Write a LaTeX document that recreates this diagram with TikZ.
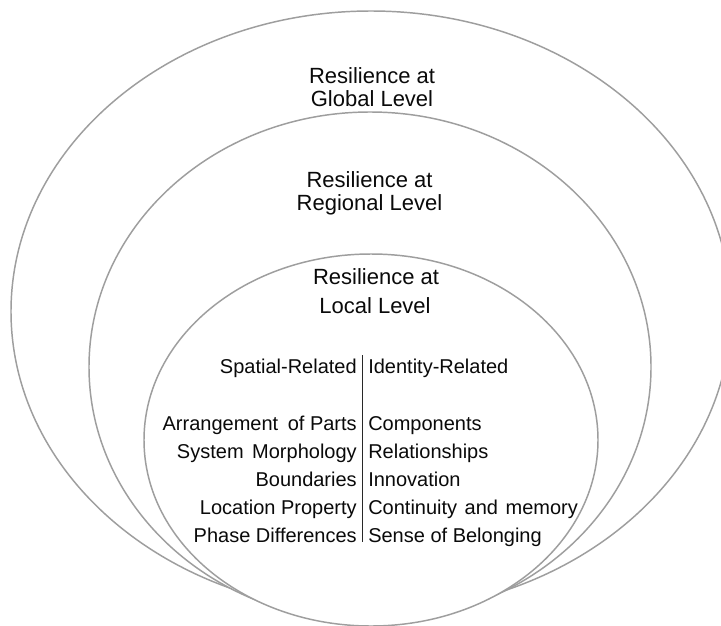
\documentclass[tikz,border=0pt]{standalone}
\usepackage{fontspec}
\setmainfont{Liberation Sans}
\usetikzlibrary{shapes.geometric}
\definecolor{ringline}{RGB}{158,158,158}
\definecolor{inktext}{RGB}{10,10,10}
\definecolor{divline}{RGB}{40,40,40}
\begin{document}
\begin{tikzpicture}[x=0.75pt,y=-0.75pt,
  ring/.style={ellipse, draw=ringline, fill=white, line width=1.1pt, inner sep=0pt, outer sep=0pt},
  title/.style={font=\fontsize{16.5}{20}\selectfont, text=inktext, inner sep=0pt, anchor=base},
  leftitem/.style={font=\fontsize{15}{18}\selectfont, text=inktext, inner sep=0pt, anchor=base east},
  rightitem/.style={font=\fontsize{15}{18}\selectfont, text=inktext, inner sep=0pt, anchor=base west},
  divider/.style={draw=divline, line width=0.8pt}]
\path[use as bounding box] (0,0) rectangle (721,625);
\clip (0,0) rectangle (721,625);
\fill[white] (0,0) rectangle (721,625);

% nested levels, the innermost on top
\node[ring, minimum width=540pt, minimum height=450.75pt] (global) at (371,311.5) {};
\node[ring, minimum width=421.5pt, minimum height=382.5pt] (regional) at (370,367) {};
\node[ring, minimum width=340.5pt, minimum height=279pt] (local) at (371,440) {};

% level titles
\node[title] (globalA) at (372,83) {Resilience at};
\node[title] (globalB) at (372,106) {Global Level};
\node[title] (regionalA) at (369.5,187.3) {Resilience at};
\node[title] (regionalB) at (369.5,210) {Regional Level};
\node[title] (localA) at (376,284) {Resilience at};
\node[title] (localB) at (375,313.3) {Local Level};

% two columns of local attributes
\node[leftitem] (sp0) at (357,373.5) {Spatial-Related};
\node[leftitem] (sp1) at (357,430) {Arrangement\hspace{0.2em} of Parts};
\node[leftitem] (sp2) at (357,458) {System\hspace{0.15em} Morphology};
\node[leftitem] (sp3) at (357,486) {Boundaries};
\node[leftitem] (sp4) at (357,514) {Location Property};
\node[leftitem] (sp5) at (357,542) {Phase Differences};

\node[rightitem] (id0) at (368,373.5) {Identity-Related};
\node[rightitem] (id1) at (368,430) {Components};
\node[rightitem] (id2) at (368,458) {Relationships};
\node[rightitem] (id3) at (368,486) {Innovation};
\node[rightitem] (id4) at (368,514) {Continuity\hspace{0.1em} and\hspace{0.1em} memory};
\node[rightitem] (id5) at (368,542) {Sense of Belonging};

\coordinate (divtop) at (362.5,355);
\coordinate (divbot) at (362.5,542);
\draw[divider] (divtop) -- (divbot);
\end{tikzpicture}
\end{document}
